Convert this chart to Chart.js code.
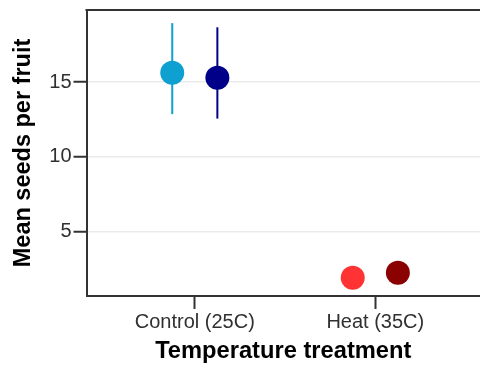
<!DOCTYPE html>
<html>
<head>
<meta charset="utf-8">
<script src="https://cdn.jsdelivr.net/npm/chart.js@4.4.1/dist/chart.umd.min.js"></script>
<style>
html, body { margin: 0; padding: 0; background: #fff; overflow: hidden; }
#wrap { width: 480px; height: 367px; }
</style>
</head>
<body>
<div id="wrap"><canvas id="chart" width="480" height="367"></canvas></div>
<script>
// group means and error bar ends, first and second line in each treatment
const treatments = ['Control (25C)', 'Heat (35C)'];
const meanA = [15.62, 1.89];
const lowA = [12.85, 1.53];
const highA = [18.95, 2.25];
const meanB = [15.29, 2.22];
const lowB = [12.55, 1.86];
const highB = [18.67, 2.58];
const colorsA = ['#0fa0d2', '#ff3333'];
const colorsB = ['#000088', '#8b0000'];
const yTicks = [5, 10, 15];

const dodge = 0.125;
const axisColor = '#333333';

function points(means, shift) {
    return means.map((m, i) => ({x: i + 1 + shift, y: m}));
}

// vertical error bars, drawn under the points
const errorBars = {
    id: 'errorBars',
    beforeDatasetsDraw(chart) {
        const c = chart.ctx;
        const xs = chart.scales.x, ys = chart.scales.y;
        const sets = [[lowA, highA, colorsA, -dodge], [lowB, highB, colorsB, dodge]];
        c.save();
        c.lineWidth = 2;
        sets.forEach(([lo, hi, cols, shift]) => {
            lo.forEach((v, i) => {
                const px = xs.getPixelForValue(i + 1 + shift);
                c.strokeStyle = cols[i];
                c.beginPath();
                c.moveTo(px, ys.getPixelForValue(v));
                c.lineTo(px, ys.getPixelForValue(hi[i]));
                c.stroke();
            });
        });
        c.restore();
    }
};

// top edge of the panel box (the right edge runs off the canvas)
const panelBox = {
    id: 'panelBox',
    afterDraw(chart) {
        const a = chart.chartArea;
        const c = chart.ctx;
        c.save();
        c.strokeStyle = axisColor;
        c.lineWidth = 2;
        c.beginPath();
        c.moveTo(a.left - 1, a.top);
        c.lineTo(chart.width, a.top);
        c.stroke();
        c.restore();
    }
};

const ctx = document.getElementById('chart');
const chart = new Chart(ctx, {
    type: 'scatter',
    data: {
        datasets: [
            {
                data: points(meanA, -dodge),
                pointBackgroundColor: colorsA,
                pointBorderWidth: 0,
                pointRadius: 12,
                pointHoverRadius: 12,
            },
            {
                data: points(meanB, dodge),
                pointBackgroundColor: colorsB,
                pointBorderWidth: 0,
                pointRadius: 12,
                pointHoverRadius: 12,
            }
        ]
    },
    options: {
        responsive: false,
        animation: false,
        devicePixelRatio: 1,
        layout: {autoPadding: false, padding: {top: 9, left: 0, right: 0, bottom: 0}},
        plugins: {legend: {display: false}, tooltip: {enabled: false}},
        scales: {
            x: {
                type: 'linear',
                min: 0.4,
                max: 2.58,
                afterBuildTicks: (axis) => { axis.ticks = [{value: 1}, {value: 2}]; },
                afterFit: (axis) => { axis.height = 71; },
                ticks: {
                    callback: (v) => treatments[v - 1],
                    color: '#303030',
                    font: {family: 'Liberation Sans', size: 20},
                    padding: 1,
                    maxRotation: 0,
                },
                grid: {
                    drawOnChartArea: false,
                    drawTicks: true,
                    tickLength: 13,
                    tickColor: axisColor,
                    tickWidth: 2,
                },
                border: {display: true, color: axisColor, width: 2},
                title: {
                    display: true,
                    text: 'Temperature treatment',
                    color: '#000',
                    font: {family: 'Liberation Sans', size: 23.7, weight: 'bold', lineHeight: 1.2},
                    padding: {top: 0, bottom: 1.5},
                },
            },
            y: {
                min: 0.66,
                max: 19.83,
                afterBuildTicks: (axis) => { axis.ticks = yTicks.map(v => ({value: v})); },
                afterFit: (axis) => { axis.width = 86.5; },
                ticks: {
                    color: '#303030',
                    font: {family: 'Liberation Sans', size: 20, lineHeight: 0.8},
                    padding: 2,
                },
                grid: {
                    color: '#ebebeb',
                    lineWidth: 1.5,
                    tickLength: 13,
                    tickColor: axisColor,
                    tickWidth: 2,
                },
                border: {display: true, color: axisColor, width: 2},
                title: {
                    display: true,
                    text: 'Mean seeds per fruit',
                    color: '#000',
                    font: {family: 'Liberation Sans', size: 23.5, weight: 'bold', lineHeight: 1.2},
                    padding: {top: 9, bottom: 0},
                },
            }
        }
    },
    plugins: [errorBars, panelBox]
});
</script>
</body>
</html>
